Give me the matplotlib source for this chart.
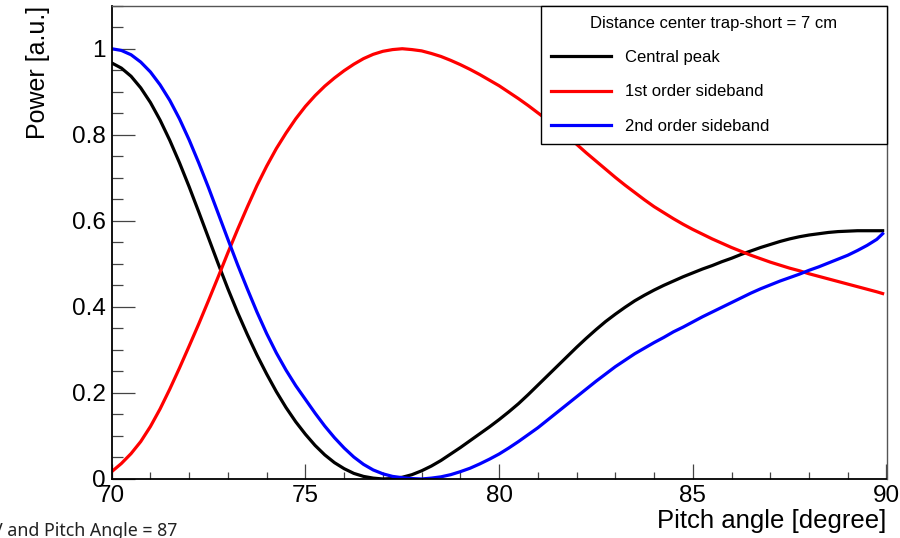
import matplotlib
matplotlib.use("Agg")
import matplotlib.pyplot as plt
from matplotlib.ticker import MultipleLocator

plt.rcParams['font.family'] = ['Liberation Sans', 'DejaVu Sans']

# Pitch angle samples (degree)
angle = [70.00, 70.25, 70.50, 70.75, 71.00, 71.25, 71.50, 71.75, 72.00, 72.25,
         72.50, 72.75, 73.00, 73.25, 73.50, 73.75, 74.00, 74.25, 74.50, 74.75,
         75.00, 75.25, 75.50, 75.75, 76.00, 76.25, 76.50, 76.75, 77.00, 77.25,
         77.50, 77.75, 78.00, 78.25, 78.50, 78.75, 79.00, 79.25, 79.50, 79.75,
         80.00, 80.25, 80.50, 80.75, 81.00, 81.25, 81.50, 81.75, 82.00, 82.25,
         82.50, 82.75, 83.00, 83.25, 83.50, 83.75, 84.00, 84.25, 84.50, 84.75,
         85.00, 85.25, 85.50, 85.75, 86.00, 86.25, 86.50, 86.75, 87.00, 87.25,
         87.50, 87.75, 88.00, 88.25, 88.50, 88.75, 89.00, 89.25, 89.50, 89.75,
         89.90]

# Normalised power of the carrier line
central_peak = [0.967, 0.955, 0.936, 0.909, 0.875, 0.834, 0.787, 0.735, 0.679, 0.620,
                0.560, 0.500, 0.442, 0.387, 0.336, 0.288, 0.244, 0.203, 0.166, 0.133,
                0.104, 0.078, 0.056, 0.038, 0.024, 0.013, 0.006, 0.002, 0.000, 0.001,
                0.004, 0.010, 0.019, 0.030, 0.043, 0.058, 0.073, 0.089, 0.105, 0.121,
                0.138, 0.156, 0.175, 0.196, 0.218, 0.240, 0.262, 0.284, 0.306, 0.327,
                0.347, 0.366, 0.383, 0.399, 0.414, 0.427, 0.439, 0.450, 0.460, 0.470,
                0.479, 0.488, 0.496, 0.505, 0.513, 0.522, 0.530, 0.538, 0.545, 0.552,
                0.558, 0.563, 0.567, 0.570, 0.573, 0.575, 0.576, 0.577, 0.577, 0.577,
                0.577]

# Normalised power of the first-order sideband
sideband_1 = [0.017, 0.036, 0.059, 0.087, 0.122, 0.163, 0.209, 0.258, 0.309, 0.361,
              0.415, 0.470, 0.526, 0.580, 0.632, 0.682, 0.727, 0.768, 0.804, 0.837,
              0.866, 0.891, 0.913, 0.932, 0.949, 0.964, 0.977, 0.987, 0.994, 0.998,
              1.000, 0.998, 0.995, 0.989, 0.982, 0.973, 0.963, 0.952, 0.940, 0.927,
              0.914, 0.899, 0.884, 0.868, 0.851, 0.834, 0.816, 0.797, 0.778, 0.758,
              0.739, 0.720, 0.701, 0.683, 0.666, 0.649, 0.633, 0.619, 0.605, 0.592,
              0.580, 0.569, 0.558, 0.548, 0.538, 0.529, 0.520, 0.512, 0.504, 0.497,
              0.490, 0.484, 0.477, 0.471, 0.465, 0.459, 0.453, 0.447, 0.441, 0.435,
              0.431]

# Normalised power of the second-order sideband
sideband_2 = [1.000, 0.996, 0.986, 0.969, 0.946, 0.916, 0.880, 0.837, 0.788, 0.734,
              0.677, 0.617, 0.557, 0.498, 0.442, 0.388, 0.338, 0.293, 0.253, 0.217,
              0.185, 0.153, 0.123, 0.096, 0.072, 0.051, 0.034, 0.021, 0.012, 0.006,
              0.003, 0.001, 0.000, 0.002, 0.005, 0.010, 0.017, 0.025, 0.035, 0.046,
              0.058, 0.072, 0.087, 0.103, 0.119, 0.137, 0.155, 0.173, 0.191, 0.209,
              0.227, 0.244, 0.261, 0.276, 0.291, 0.304, 0.317, 0.329, 0.342, 0.353,
              0.365, 0.377, 0.388, 0.399, 0.410, 0.421, 0.432, 0.442, 0.451, 0.460,
              0.468, 0.476, 0.485, 0.493, 0.502, 0.511, 0.520, 0.531, 0.543, 0.557,
              0.570]

series = [
    ("Central peak", central_peak, "#000000"),
    ("1st order sideband", sideband_1, "#ff0000"),
    ("2nd order sideband", sideband_2, "#0000ff"),
]

fig = plt.figure(figsize=(9, 5.38), dpi=100)
ax = fig.add_axes([0.1241, 0.1097, 0.8609, 0.8797])

for name, values, color in series:
    ax.plot(angle, values, color=color, lw=2.3, label=name,
            solid_joinstyle='round')

ax.set_xlim(70, 90)
ax.set_ylim(0, 1.1)

ax.xaxis.set_major_locator(MultipleLocator(5))
ax.xaxis.set_minor_locator(MultipleLocator(1))
ax.yaxis.set_major_locator(MultipleLocator(0.2))
ax.yaxis.set_minor_locator(MultipleLocator(0.05))
ax.yaxis.set_major_formatter(plt.FuncFormatter(lambda v, p: f"{v:g}"))

ax.tick_params(which='both', direction='in', color='#444444', width=0.9,
               top=False, right=False, labelsize=17.5)
ax.tick_params(axis='y', which='major', length=16.5, pad=4.5)
ax.tick_params(axis='y', which='minor', length=8)
ax.tick_params(axis='x', which='major', length=10.8, pad=4.5)
ax.tick_params(axis='x', which='minor', length=5.2)

for side in ('left', 'bottom'):
    ax.spines[side].set_color('#000000')
    ax.spines[side].set_linewidth(1.3)
for side in ('top', 'right'):
    ax.spines[side].set_color('#555555')
    ax.spines[side].set_linewidth(1.0)

ax.set_xlabel("Pitch angle [degree]", fontsize=18.5, loc='right')
ax.xaxis.set_label_coords(1.0, -0.064)
ax.set_ylabel("Power [a.u.]", fontsize=18, loc='top')
ax.yaxis.set_label_coords(-0.079, 1.0)

leg = ax.legend(loc='upper left', bbox_to_anchor=(0.554, 0.7106, 0.446, 0.2894),
                mode='expand', borderaxespad=0, fontsize=12,
                title="Distance center trap-short = 7 cm", title_fontsize=12,
                frameon=True, fancybox=False, shadow=False, framealpha=1,
                edgecolor='#000000', handlelength=3.6, handletextpad=0.85,
                labelspacing=1.15, borderpad=0.62)
leg.get_frame().set_linewidth(1.0)

fig.text(-0.0090, 0.0037, "V and Pitch Angle = 87", fontsize=12.8,
         family=['Noto Sans', 'DejaVu Sans'], color='#222222',
         ha='left', va='baseline')

fig.savefig("out.png", dpi=100)
